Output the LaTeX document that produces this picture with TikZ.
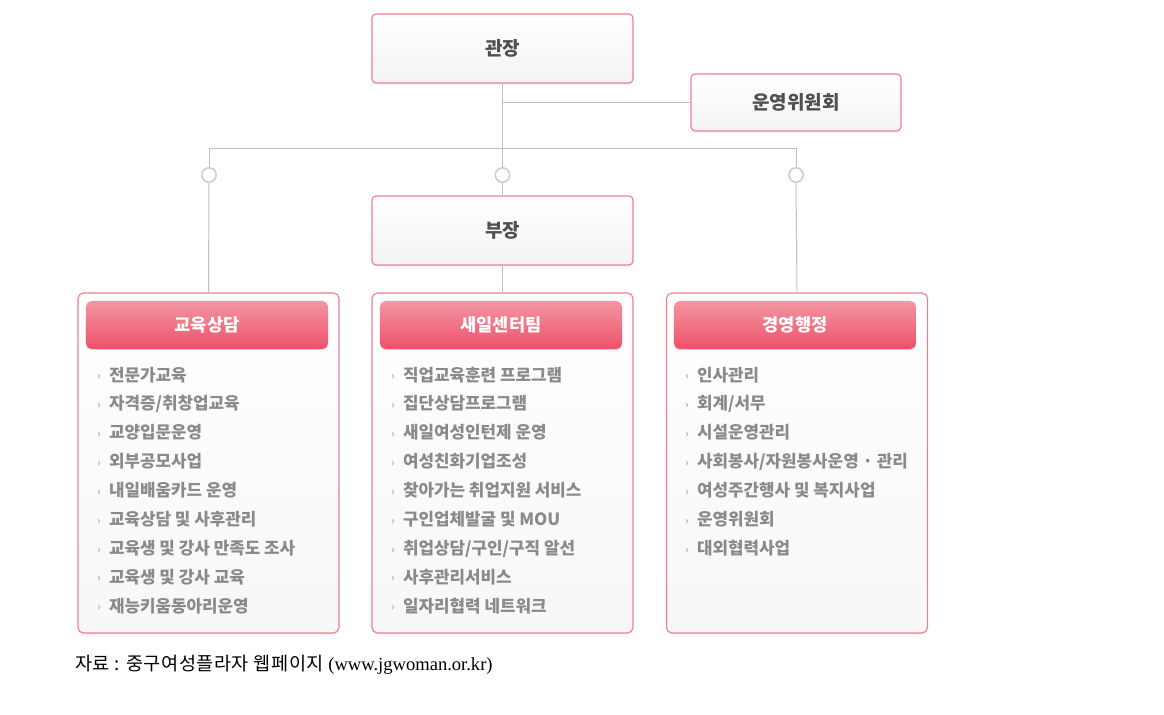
\documentclass[tikz,border=0pt]{standalone}
\usepackage{fontspec}
\setmainfont{Liberation Serif}
\newfontfamily\kr{Noto Sans CJK KR}
\usetikzlibrary{shadows}
\definecolor{pinkline}{RGB}{238,128,142}
\definecolor{barTop}{RGB}{243,150,163}
\definecolor{barBot}{RGB}{238,80,104}
\definecolor{linegray}{RGB}{192,192,192}
\definecolor{headtext}{RGB}{80,80,80}
\definecolor{itemtext}{RGB}{138,138,138}
\newcommand{\bul}{\raisebox{1pt}{\color{gray!60}\fontsize{7}{7}\selectfont ›}\hspace{6pt}}

\begin{document}
\begin{tikzpicture}[x=0.025cm, y=-0.025cm,
    box/.style={draw=pinkline, line width=0.8pt, rounded corners=3pt, top color=white, bottom color=gray!9,
        drop shadow={shadow xshift=0pt, shadow yshift=-1.2pt, opacity=0.12},
        font=\kr\bfseries\fontsize{13.5}{16}\selectfont, text=headtext},
    group/.style={draw=pinkline, line width=0.8pt, rounded corners=4pt, top color=white, bottom color=gray!6,
        minimum width=6.525cm, minimum height=8.5cm,
        drop shadow={shadow xshift=0pt, shadow yshift=-1.2pt, opacity=0.12}},
    bar/.style={rounded corners=4pt, top color=barTop, bottom color=barBot, minimum width=6.05cm, minimum height=1.2cm,
        drop shadow={shadow xshift=0pt, shadow yshift=-1pt, opacity=0.2},
        font=\kr\bfseries\fontsize{12.5}{15}\selectfont, text=white},
    items/.style={anchor=north west, inner sep=0pt, align=left, text=itemtext,
        font=\kr\bfseries\fontsize{12}{20.55}\selectfont},
    dot/.style={circle, draw=linegray!80, line width=1.1pt, fill=white, minimum size=0.36cm, inner sep=0pt},
    link/.style={draw=linegray, line width=0.7pt}
]
    \useasboundingbox (0,0) rectangle (1164,715);

    % Top boxes
    \node[box, minimum width=6.525cm, minimum height=1.725cm] (kwanjang) at (502.5,48.5) {관장};
    \node[box, minimum width=5.25cm, minimum height=1.425cm] (committee) at (796,102.5) {운영위원회};
    \node[box, minimum width=6.525cm, minimum height=1.725cm] (bujang) at (502.5,230.5) {부장};

    % Junction dots
    \node[dot] (dot1) at (209,175) {};
    \node[dot] (dot2) at (502.5,175) {};
    \node[dot] (dot3) at (796,175) {};
    \coordinate (jleft) at (209,148);
    \coordinate (jright) at (796,148);

    % Three columns
    \node[group] (grp1) at (208.5,463) {};
    \node[group] (grp2) at (502.5,463) {};
    \node[group] (grp3) at (797,463) {};

    \node[bar] (bar1) at (207,325) {교육상담};
    \node[bar] (bar2) at (501,325) {새일센터팀};
    \node[bar] (bar3) at (795,325) {경영행정};

    \node[items] (list1) at (97,366.5) {
        \bul 전문가교육\\
        \bul 자격증/취창업교육\\
        \bul 교양입문운영\\
        \bul 외부공모사업\\
        \bul 내일배움카드 운영\\
        \bul 교육상담 및 사후관리\\
        \bul 교육생 및 강사 만족도 조사\\
        \bul 교육생 및 강사 교육\\
        \bul 재능키움동아리운영};
    \node[items] (list2) at (391,366.5) {
        \bul 직업교육훈련 프로그램\\
        \bul 집단상담프로그램\\
        \bul 새일여성인턴제 운영\\
        \bul 여성친화기업조성\\
        \bul 찾아가는 취업지원 서비스\\
        \bul 구인업체발굴 및 MOU\\
        \bul 취업상담/구인/구직 알선\\
        \bul 사후관리서비스\\
        \bul 일자리협력 네트워크};
    \node[items] (list3) at (685,366.5) {
        \bul 인사관리\\
        \bul 회계/서무\\
        \bul 시설운영관리\\
        \bul 사회봉사/자원봉사운영 · 관리\\
        \bul 여성주간행사 및 복지사업\\
        \bul 운영위원회\\
        \bul 대외협력사업};

    % Connectors
    \draw[link] (kwanjang.south) -- (dot2.north);
    \draw[link] (kwanjang.south |- committee.west) -- (committee.west);
    \draw[link] (jleft) -- (jright);
    \draw[link] (jleft) -- (dot1.north);
    \draw[link] (jright) -- (dot3.north);
    \draw[link] (dot2.south) -- (bujang.north);
    \draw[link] (bujang.south) -- (grp2.north);
    \draw[link] (dot1.south) -- (grp1.north);
    \draw[link] (dot3.south) -- (grp3.north);

    % Source line
    \node[anchor=west, inner sep=0pt, font=\fontsize{13.2}{15}\selectfont] (source) at (75,665)
        {{\kr\addfontfeature{LetterSpace=3} 자료 : 중구여성플라자 웹페이지} (www.jgwoman.or.kr)};
\end{tikzpicture}
\end{document}
